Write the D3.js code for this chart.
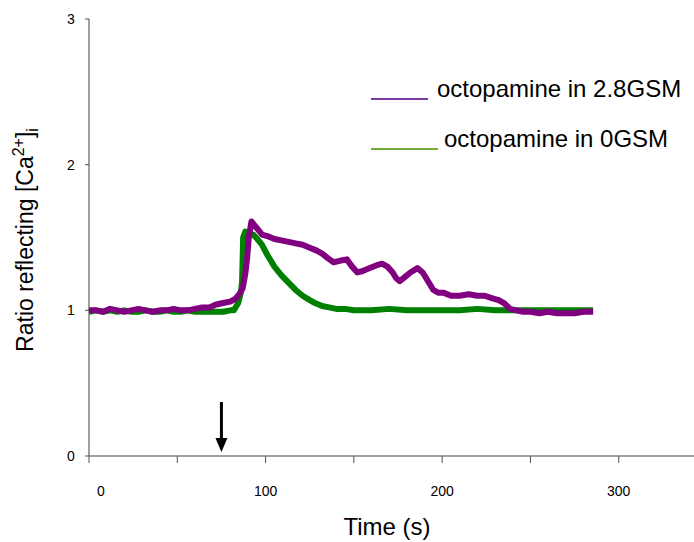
<!DOCTYPE html>
<html>
<head>
<meta charset="utf-8">
<script src="https://cdn.jsdelivr.net/npm/d3@7"></script>
<style>
  body { margin: 0; background: #fff; }
  text { font-family: "Liberation Sans", Arial, sans-serif; }
</style>
</head>
<body>
<script>
// readings (time in s, ratio)
var timeHigh = [0, 4, 8, 12, 16, 20, 24, 28, 32, 36, 40, 44, 48, 52, 56, 60, 64, 68, 72, 76, 80, 83, 85, 87, 88.5, 89.5, 90.5, 92, 94, 96, 98, 101, 105, 109, 113, 117, 121, 125, 129, 132, 135, 138.5, 142, 146, 149, 152, 155, 159, 163, 166, 169, 172, 174, 176, 179, 182, 186, 189, 191.5, 195, 198, 201, 205, 210, 215, 220, 224, 229, 232, 235, 238.5, 242, 246, 250, 255, 260, 265, 270, 275, 280, 285.5];
var ratioHigh = [1.00, 1.00, 0.99, 1.01, 1.00, 0.99, 1.00, 1.01, 1.00, 0.99, 1.00, 1.00, 1.01, 1.00, 1.00, 1.01, 1.02, 1.02, 1.04, 1.05, 1.06, 1.08, 1.11, 1.15, 1.25, 1.35, 1.50, 1.61, 1.58, 1.55, 1.52, 1.51, 1.49, 1.48, 1.47, 1.46, 1.45, 1.43, 1.41, 1.39, 1.36, 1.33, 1.34, 1.35, 1.30, 1.26, 1.27, 1.29, 1.31, 1.32, 1.30, 1.26, 1.22, 1.20, 1.23, 1.26, 1.29, 1.26, 1.21, 1.14, 1.12, 1.12, 1.10, 1.10, 1.11, 1.10, 1.10, 1.08, 1.07, 1.05, 1.01, 1.00, 0.99, 0.99, 0.98, 0.99, 0.98, 0.98, 0.98, 0.99, 0.99];

var timeZero = [0, 4, 8, 12, 16, 20, 24, 28, 32, 36, 40, 44, 48, 52, 56, 60, 64, 68, 72, 76, 80, 82, 84.5, 86, 86.7, 87.3, 88.5, 90, 93, 96, 98, 101, 103, 105, 109, 113, 117, 121, 125, 128, 132, 136, 140, 145, 150, 160, 170, 180, 190, 200, 210, 220, 230, 240, 250, 260, 270, 280, 285.5];
var ratioZero = [0.99, 1.00, 0.99, 1.00, 0.99, 1.00, 0.99, 0.99, 1.00, 0.99, 0.99, 1.00, 0.99, 0.99, 1.00, 0.99, 0.99, 0.99, 0.99, 0.99, 1.00, 1.00, 1.05, 1.12, 1.20, 1.50, 1.54, 1.53, 1.52, 1.48, 1.45, 1.38, 1.34, 1.30, 1.24, 1.19, 1.14, 1.10, 1.07, 1.05, 1.03, 1.02, 1.01, 1.01, 1.00, 1.00, 1.01, 1.00, 1.00, 1.00, 1.00, 1.01, 1.00, 1.00, 1.00, 1.00, 1.00, 1.00, 1.00];

var seriesNames = ["octopamine in 2.8GSM", "octopamine in 0GSM"];
var xTicks = [0, 50, 100, 150, 200, 250, 300, 350];
var xTickLabels = [0, 100, 200, 300];
var yTicks = [0, 1, 2, 3];
var arrowTime = 75;

var w = 694, h = 542;

var svg = d3.select("body").append("svg")
    .attr("width", w)
    .attr("height", h);

var x = d3.scaleLinear().domain([0, 350]).range([89, 707]);
var y = d3.scaleLinear().domain([0, 3]).range([456, 19]);

// axes
svg.append("line")
   .attr("x1", x(0)).attr("x2", w)
   .attr("y1", y(0)).attr("y2", y(0))
   .attr("stroke", "#7f7f7f").attr("stroke-width", 1.5);
svg.append("line")
   .attr("x1", x(0)).attr("x2", x(0))
   .attr("y1", y(3)).attr("y2", y(0))
   .attr("stroke", "#7f7f7f").attr("stroke-width", 1.5);

svg.selectAll(".xtick")
   .data(xTicks)
   .enter()
   .append("line")
   .attr("x1", function(d) { return x(d); })
   .attr("x2", function(d) { return x(d); })
   .attr("y1", y(0))
   .attr("y2", y(0) + 7)
   .attr("stroke", "#555")
   .attr("stroke-width", 1);

svg.selectAll(".ytick")
   .data(yTicks)
   .enter()
   .append("line")
   .attr("x1", x(0) - 4)
   .attr("x2", x(0))
   .attr("y1", function(d) { return y(d); })
   .attr("y2", function(d) { return y(d); })
   .attr("stroke", "#555")
   .attr("stroke-width", 1);

svg.selectAll(".xlab")
   .data(xTickLabels)
   .enter()
   .append("text")
   .text(function(d) { return d; })
   .attr("x", function(d) { return d == 0 ? x(d) + 12 : x(d); })
   .attr("y", 496)
   .attr("text-anchor", "middle")
   .attr("font-size", "14px")
   .attr("fill", "#000");

svg.selectAll(".ylab")
   .data(yTicks)
   .enter()
   .append("text")
   .text(function(d) { return d; })
   .attr("x", 71)
   .attr("y", function(d) { return y(d) + 5; })
   .attr("text-anchor", "middle")
   .attr("font-size", "14px")
   .attr("fill", "#000");

// titles
svg.append("text")
   .attr("x", 387)
   .attr("y", 535)
   .attr("text-anchor", "middle")
   .attr("font-size", "24px")
   .text("Time (s)");

var yt = svg.append("text")
   .attr("transform", "translate(33,240) rotate(-90)")
   .attr("text-anchor", "middle")
   .attr("font-size", "23px");
yt.append("tspan").text("Ratio reflecting [Ca");
yt.append("tspan").attr("font-size", "16px").attr("dy", -9).text("2+");
yt.append("tspan").attr("dy", 9).text("]");
yt.append("tspan").attr("font-size", "16px").attr("dy", 5).text("i");

// traces
var line = d3.line()
    .x(function(d) { return x(d[0]); })
    .y(function(d) { return y(d[1]); });

var zeroData = d3.zip(timeZero, ratioZero);
var highData = d3.zip(timeHigh, ratioHigh);

svg.append("path")
   .datum(zeroData)
   .attr("d", line)
   .attr("fill", "none")
   .attr("stroke", "#008000")
   .attr("stroke-width", 6)
   .attr("stroke-linejoin", "round");

svg.append("path")
   .datum(highData)
   .attr("d", line)
   .attr("fill", "none")
   .attr("stroke", "#800080")
   .attr("stroke-width", 6)
   .attr("stroke-linejoin", "round");

// legend
var legend = [
  { name: seriesNames[0], color: "#7b3aa8", x1: 371, x2: 428, ly: 99, tx: 437, ty: 97 },
  { name: seriesNames[1], color: "#72ac3a", x1: 371, x2: 438, ly: 149, tx: 444, ty: 147 }
];
svg.selectAll(".legline")
   .data(legend)
   .enter()
   .append("line")
   .attr("x1", function(d) { return d.x1; })
   .attr("x2", function(d) { return d.x2; })
   .attr("y1", function(d) { return d.ly; })
   .attr("y2", function(d) { return d.ly; })
   .attr("stroke", function(d) { return d.color; })
   .attr("stroke-width", 2);
svg.selectAll(".legtext")
   .data(legend)
   .enter()
   .append("text")
   .attr("x", function(d) { return d.tx; })
   .attr("y", function(d) { return d.ty; })
   .attr("font-size", "24px")
   .text(function(d) { return d.name; });

// stimulus arrow
var ax = x(arrowTime);
svg.append("line")
   .attr("x1", ax).attr("x2", ax)
   .attr("y1", 402).attr("y2", 440)
   .attr("stroke", "#000").attr("stroke-width", 3);
svg.append("path")
   .attr("d", "M" + (ax - 6) + ",438 L" + (ax + 6) + ",438 L" + ax + ",452 Z")
   .attr("fill", "#000");
</script>
</body>
</html>
